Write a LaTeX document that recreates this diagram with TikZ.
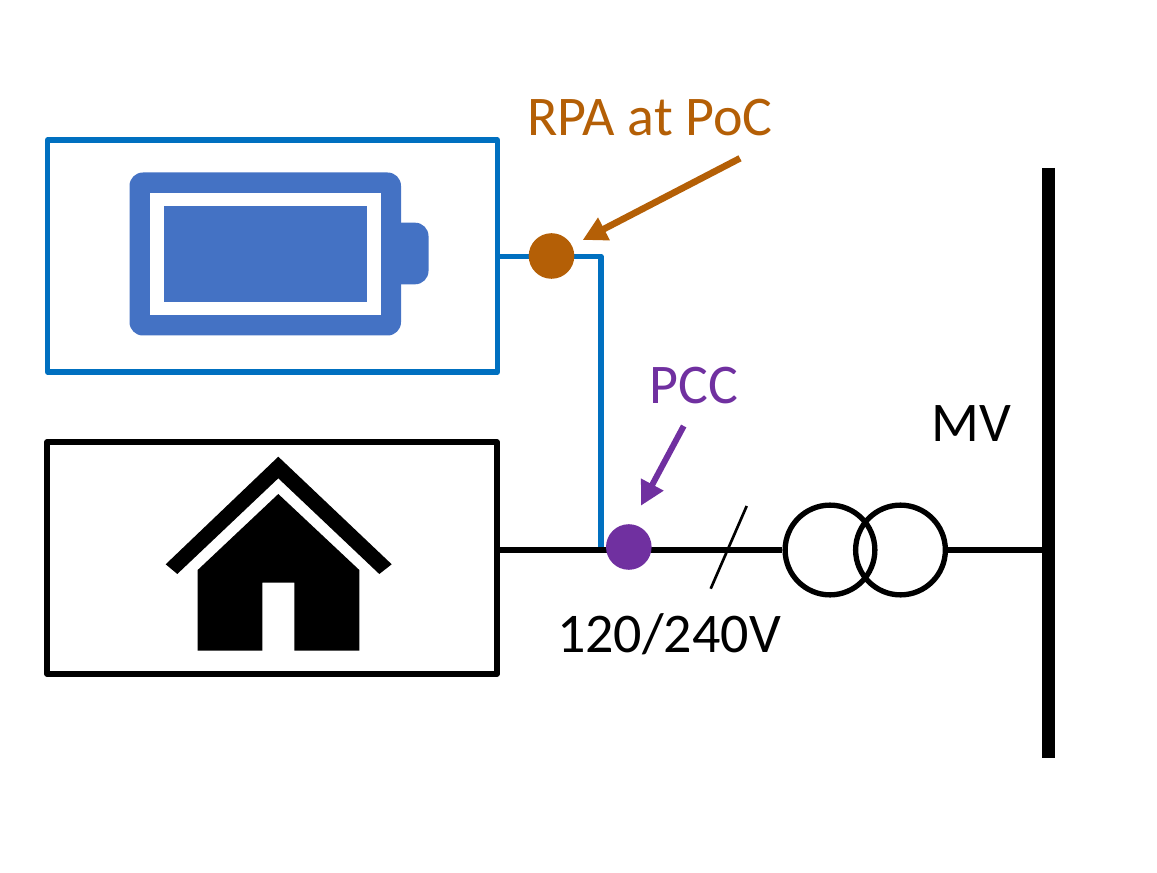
\documentclass[tikz,border=0pt]{standalone}
\usepackage{fontspec}
\setmainfont{Carlito}
\usetikzlibrary{arrows.meta}
\definecolor{boxblue}{HTML}{0070C0}
\definecolor{batblue}{HTML}{4472C4}
\definecolor{rpaorange}{HTML}{B45F06}
\definecolor{pccpurple}{HTML}{7030A0}
\tikzset{
  x=0.75pt,y=-0.75pt,
  panel/.style={draw,line width=4pt,line join=round,minimum width=337.5pt,minimum height=174pt,inner sep=0pt},
  dotnode/.style={circle,minimum size=34.2pt,inner sep=0pt},
  winding/.style={circle,draw=black,line width=4pt,minimum size=67.3pt,inner sep=0pt},
  wire/.style={line width=4.1pt,draw=black},
  bluewire/.style={line width=4pt,draw=boxblue,line join=round},
  pointer/.style={-{Triangle[length=18pt,width=18pt]}},
  lbl/.style={inner sep=0pt,font=\fontsize{42}{50}\selectfont}
}
\begin{document}
\begin{tikzpicture}
\useasboundingbox (0,0) rectangle (1157,873);
% panels
\node[panel,draw=boxblue] (batbox) at (272.5,256) {};
\node[panel,draw=black] (homebox) at (272,558) {};
% battery icon
\fill[batblue,rounded corners=10pt] (129.5,172.5) rectangle (401,335.5);
\fill[batblue,rounded corners=10pt] (380,222.7) rectangle (428.5,284.3);
\fill[white] (150,192.7) rectangle (380.7,315);
\fill[batblue] (163.5,206.3) rectangle (367.3,301.7);
% house icon
\fill[black] (278.3,456.7) -- (391.7,564.3) -- (379.3,574) -- (278.3,478.3) -- (177.3,574) -- (165.7,564.3) -- cycle;
\fill[black] (278.3,494) -- (359.3,570) -- (359.3,650.7) -- (294.3,650.7) -- (294.3,582.7) -- (262.3,582.7) -- (262.3,650.7) -- (197.7,650.7) -- (197.7,570) -- cycle;
% transformer
\node[winding] (t1) at (830,550) {};
\node[winding] (t2) at (900.5,550) {};
% junction names
\coordinate (batout) at (498,256.3);
\coordinate (bend) at (601,256.3);
\coordinate (tee) at (601,550);
\coordinate (homeout) at (500,550);
\coordinate (busw) at (1045,550);
\coordinate (bustop) at (1048.7,168);
\coordinate (busbot) at (1048.7,758);
\coordinate (slasha) at (746.7,506);
\coordinate (slashb) at (710.7,588.7);
\coordinate (rpafrom) at (740,158.3);
\coordinate (rpato) at (582.7,240);
\coordinate (pccfrom) at (683.7,426);
\coordinate (pccto) at (641,505.7);
% wires
\draw[bluewire] (batout) -- (bend) -- (tee);
\draw[wire] (homeout) -- (t1.west);
\draw[wire] (t2.east) -- (busw);
\draw[line width=9.4pt] (bustop) -- (busbot);
\draw[line width=2pt] (slasha) -- (slashb);
% dots
\node[dotnode,fill=rpaorange] (rpa) at (551.5,256) {};
\node[dotnode,fill=pccpurple] (pcc) at (628.8,547) {};
% pointers
\draw[pointer,draw=rpaorange,fill=rpaorange,line width=5pt] (rpafrom) -- (rpato);
\draw[pointer,draw=pccpurple,fill=pccpurple,line width=4.5pt] (pccfrom) -- (pccto);
% labels
\node[lbl,text=rpaorange] (rpalbl) at (650,118) {RPA at PoC};
\node[lbl,text=pccpurple] (pcclbl) at (694,386) {PCC};
\node[lbl,text=black] (mvlbl) at (971,424) {MV};
\node[lbl,text=black] (lvlbl) at (669,634) {120/240V};
\end{tikzpicture}
\end{document}
